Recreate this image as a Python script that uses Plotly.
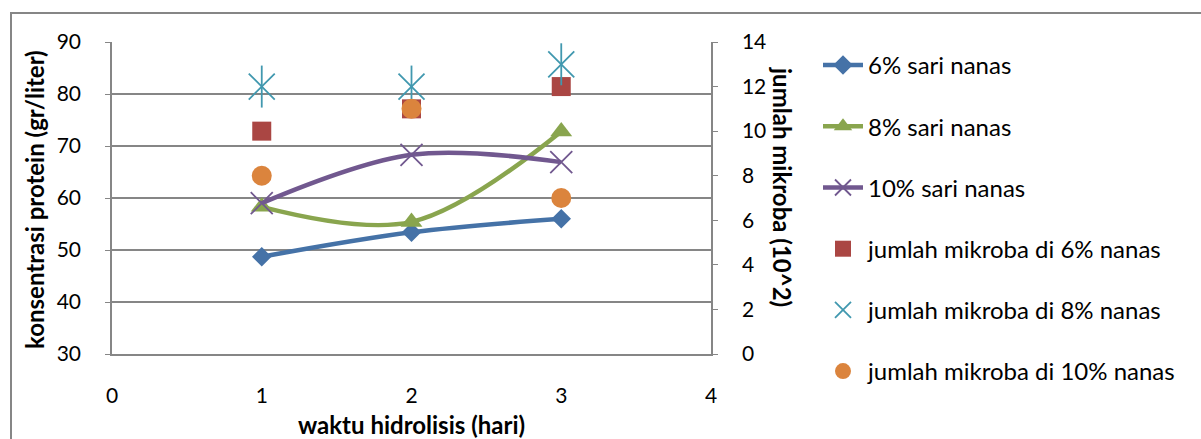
import plotly.graph_objects as go

days = [1, 2, 3]
protein_6 = [48.7, 53.4, 56.0]
protein_8 = [58.3, 55.4, 72.8]
protein_10 = [59.0, 68.3, 66.9]
mikroba_6 = [10, 11, 12]
mikroba_8 = [12, 12, 13]
mikroba_10 = [8, 11, 7]

names = ["6% sari nanas", "8% sari nanas", "10% sari nanas",
         "jumlah mikroba di 6% nanas", "jumlah mikroba di 8% nanas",
         "jumlah mikroba di 10% nanas"]

FONT = "Lato"
GRID = "#868686"
C_BLUE, C_GREEN, C_PURPLE = "#4572A7", "#89A54E", "#71588F"
C_RED, C_TEAL, C_ORANGE = "#AA4643", "#4198AF", "#DB843D"

fig = go.Figure()
fig.add_trace(go.Scatter(x=days, y=protein_6, name=names[0], mode="lines+markers",
                         line=dict(color=C_BLUE, width=4.5, shape="spline"),
                         marker=dict(symbol="diamond", size=15, color=C_BLUE),
                         legendgroup="a"))
fig.add_trace(go.Scatter(x=days, y=protein_8, name=names[1], mode="lines+markers",
                         line=dict(color=C_GREEN, width=4.5, shape="spline"),
                         marker=dict(symbol="triangle-up", size=19, color=C_GREEN),
                         legendgroup="b"))
fig.add_trace(go.Scatter(x=days, y=protein_10, name=names[2], mode="lines+markers",
                         line=dict(color=C_PURPLE, width=4.5, shape="spline"),
                         marker=dict(symbol="x-thin-open", size=22, color=C_PURPLE,
                                     line=dict(color=C_PURPLE, width=1.8)),
                         legendgroup="c"))
fig.add_trace(go.Scatter(x=days, y=mikroba_6, name=names[3], mode="markers", yaxis="y2",
                         marker=dict(symbol="square", size=19, color=C_RED),
                         legendgroup="d"))
fig.add_trace(go.Scatter(x=days, y=mikroba_8, name=names[4], mode="markers", yaxis="y2",
                         marker=dict(symbol="x-thin-open", size=26, color=C_TEAL,
                                     line=dict(color=C_TEAL, width=1.8)),
                         legendgroup="e"))
fig.add_trace(go.Scatter(x=days, y=mikroba_8, name=names[4], mode="markers", yaxis="y2",
                         marker=dict(symbol="line-ns-open", size=30, color=C_TEAL,
                                     line=dict(color=C_TEAL, width=1.8)),
                         legendgroup="e", showlegend=False))
fig.add_trace(go.Scatter(x=days, y=mikroba_10, name=names[5], mode="markers", yaxis="y2",
                         marker=dict(symbol="circle", size=20, color=C_ORANGE),
                         legendgroup="f"))

L, R, T, B = 112, 711, 42, 354
W, H = 1201, 439

def px(x):
    return (x - L) / (R - L)

def py(y):
    return (B - y) / (B - T)

TICKF = dict(size=21, family=FONT, color="black")
TITLEF = dict(size=24, family=FONT, color="black")

fig.update_layout(
    width=W, height=H,
    margin=dict(l=L, r=W - R, t=T, b=H - B, pad=0),
    paper_bgcolor="white", plot_bgcolor="white",
    font=dict(family=FONT, size=21, color="black"),
    showlegend=True,
    legend=dict(x=px(818), y=py(43), xanchor="left", yanchor="top",
                tracegroupgap=27, font=dict(size=24, family=FONT, color="black"),
                bgcolor="rgba(0,0,0,0)", itemwidth=40, maxheight=430),
    xaxis=dict(range=[0, 4], dtick=1, tick0=0, showgrid=False, zeroline=False,
               showline=True, linecolor=GRID, linewidth=1.5, ticks="",
               ticklabelstandoff=22, tickfont=TICKF),
    yaxis=dict(range=[30, 90], dtick=10, tick0=30, showgrid=True, gridcolor=GRID,
               gridwidth=1.5, zeroline=False, showline=True, linecolor=GRID,
               linewidth=1.5, ticks="outside", ticklen=5, tickcolor=GRID,
               ticklabelstandoff=20, tickfont=TICKF),
    yaxis2=dict(range=[0, 14], dtick=2, tick0=0, overlaying="y", side="right",
                showgrid=False, zeroline=False, showline=True, linecolor=GRID,
                linewidth=1.5, ticks="outside", ticklen=5, tickcolor=GRID,
                ticklabelstandoff=20, tickfont=TICKF),
    annotations=[
        dict(text="<b>konsentrasi protein (gr/liter)</b>", x=px(34), y=py(200),
             xref="paper", yref="paper", textangle=-90, showarrow=False,
             xanchor="center", yanchor="middle", font=TITLEF),
        dict(text="<b>jumlah mikroba (10^2)</b>", x=px(783), y=py(187),
             xref="paper", yref="paper", textangle=90, showarrow=False,
             xanchor="center", yanchor="middle", font=TITLEF),
        dict(text="<b>waktu hidrolisis (hari)</b>", x=px(411), y=py(424),
             xref="paper", yref="paper", showarrow=False,
             xanchor="center", yanchor="middle", font=TITLEF),
    ],
    shapes=[dict(type="rect", xref="paper", yref="paper",
                 x0=px(11), x1=px(1215), y0=py(450), y1=py(13),
                 line=dict(color=GRID, width=2), layer="below")],
)

fig.write_html("out.html")
